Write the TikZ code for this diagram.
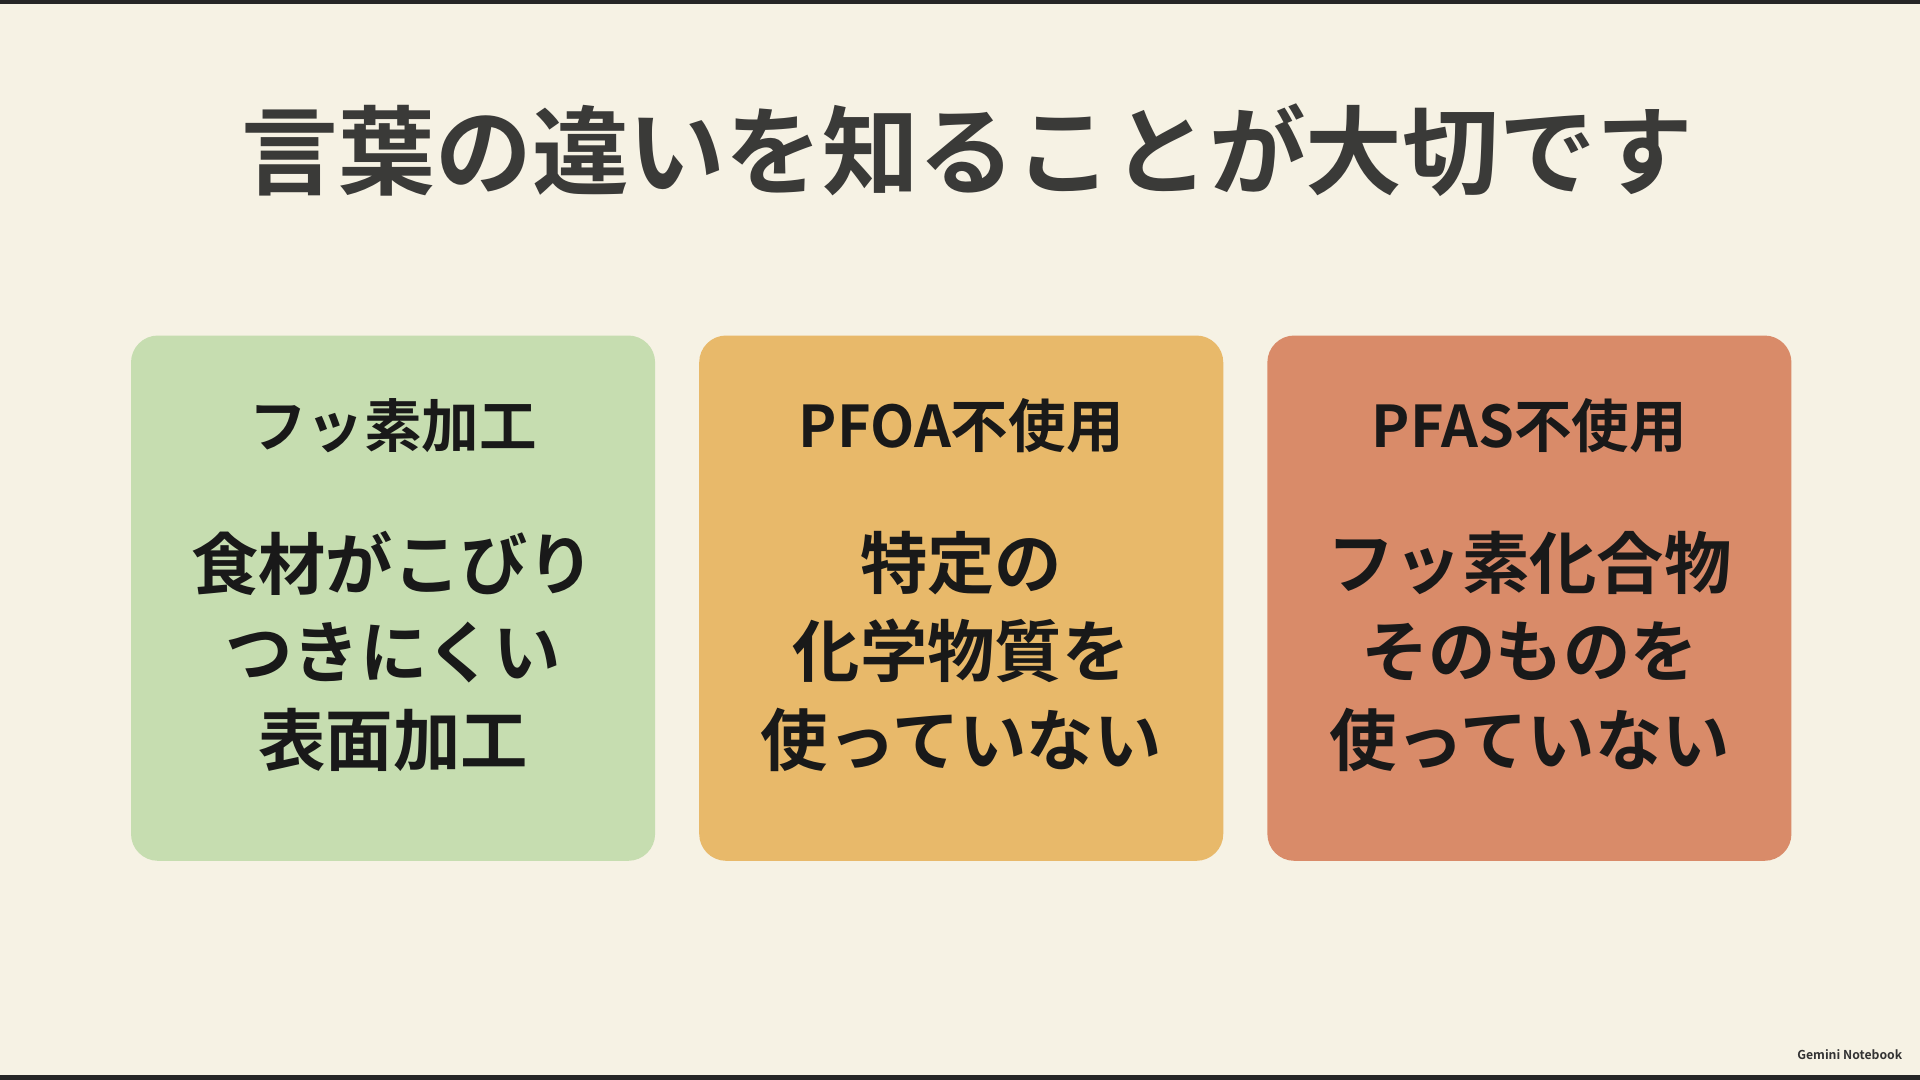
\documentclass[tikz,border=0pt]{standalone}
\usepackage{fontspec}
\setmainfont{Noto Sans CJK JP}[BoldFont={Noto Sans CJK JP Bold}]
\definecolor{bg}{HTML}{F6F2E4}
\definecolor{gr}{HTML}{C6DDB0}
\definecolor{og}{HTML}{E8B96A}
\definecolor{rd}{HTML}{D98B69}
\definecolor{tt}{HTML}{3A3A38}
\begin{document}
\begin{tikzpicture}[x=1pt,y=-1pt,
  card/.style={rounded corners=22pt,draw=none},
  head/.style={font=\fontsize{47}{52}\selectfont\bfseries,text=black!90,anchor=center},
  body/.style={font=\fontsize{55}{72}\selectfont\bfseries,text=black!90,align=center,anchor=center}]
\fill[bg] (0,0) rectangle (1568,882);
\fill[black!85] (0,0) rectangle (1568,3);
\fill[black!85] (0,878) rectangle (1568,882);
\useasboundingbox (0,0) rectangle (1568,882);
\node[font=\fontsize{79}{90}\selectfont\bfseries,text=tt] (title) at (790,123) {言葉の違いを知ることが大切です};
\fill[gr,card] (107,274) rectangle (535,703);
\fill[og,card] (571,274) rectangle (999,703);
\fill[rd,card] (1035,274) rectangle (1463,703);
\node[head] (h1) at (321,348) {フッ素加工};
\node[head] (h2) at (785,348) {PFOA不使用};
\node[head] (h3) at (1249,348) {PFAS不使用};
\node[body] (b1) at (321,532) {食材がこびり\\つきにくい\\表面加工};
\node[body] (b2) at (785,532) {特定の\\化学物質を\\使っていない};
\node[body] (b3) at (1249,532) {フッ素化合物\\そのものを\\使っていない};
\node[font=\fontsize{10}{12}\selectfont\bfseries,text=black!80,anchor=east] (gem) at (1557,861) {Gemini Notebook};
\end{tikzpicture}
\end{document}
